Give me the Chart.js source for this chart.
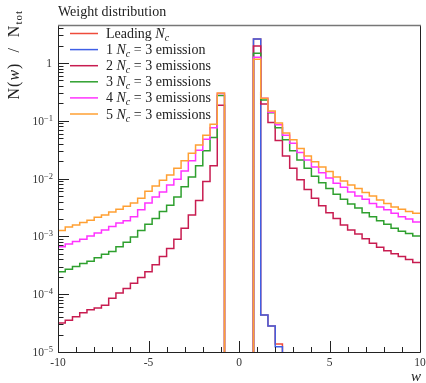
<!DOCTYPE html>
<html>
<head>
<meta charset="utf-8">
<script src="https://cdn.jsdelivr.net/npm/chart.js@4.4.1/dist/chart.umd.min.js"></script>
<style>
  html, body { margin: 0; padding: 0; background: #fff; }
</style>
</head>
<body>
<canvas id="weights" width="426" height="383"></canvas>
<script>
// DATA

// bin edges, 50 bins of width 0.4
const binEdges = [-10, -9.6, -9.2, -8.8, -8.4, -8, -7.6, -7.2, -6.8, -6.4,
  -6, -5.6, -5.2, -4.8, -4.4, -4, -3.6, -3.2, -2.8, -2.4,
  -2, -1.6, -1.2, -0.8, -0.4, 0, 0.4, 0.8, 1.2, 1.6,
  2, 2.4, 2.8, 3.2, 3.6, 4, 4.4, 4.8, 5.2, 5.6,
  6, 6.4, 6.8, 7.2, 7.6, 8, 8.4, 8.8, 9.2, 9.6, 10];

const leadingNc = [0, 0, 0, 0, 0, 0, 0, 0, 0, 0, 0, 0, 0, 0, 0, 0, 0, 0, 0, 0,
  0, 0, 0, 0, 0, 0, 0, 2.6, 4.37e-5, 2.82e-5, 1.38e-5, 0, 0, 0, 0, 0, 0, 0, 0, 0,
  0, 0, 0, 0, 0, 0, 0, 0, 0, 0];

const emission1 = [0, 0, 0, 0, 0, 0, 0, 0, 0, 0, 0, 0, 0, 0, 0, 0, 0, 0, 0, 0,
  0, 0, 0, 0, 0, 0, 0, 2.6, 4.37e-5, 2.82e-5, 1.23e-5, 0, 0, 0, 0, 0, 0, 0, 0, 0,
  0, 0, 0, 0, 0, 0, 0, 0, 0, 0];

const emission2 = [3.16e-5, 3.55e-5, 4.07e-5, 4.79e-5, 5.37e-5, 5.75e-5, 6.46e-5, 8.51e-5, 1.05e-4, 1.26e-4,
  1.55e-4, 1.95e-4, 2.45e-4, 3.24e-4, 4.47e-4, 6.17e-4, 8.91e-4, 1.38e-3, 2.34e-3, 4.17e-3,
  8.91e-3, 0.0166, 0.186, 0, 0, 0, 0, 1.97, 0.195, 0.0933,
  0.0457, 0.0245, 0.0151, 9.55e-3, 6.46e-3, 4.57e-3, 3.39e-3, 2.57e-3, 2.04e-3, 1.58e-3,
  1.29e-3, 1.10e-3, 9.12e-4, 7.59e-4, 6.46e-4, 5.62e-4, 5.01e-4, 4.47e-4, 3.98e-4, 3.55e-4];

const emission3 = [2.45e-4, 2.69e-4, 3.02e-4, 3.39e-4, 3.72e-4, 4.27e-4, 4.90e-4, 5.50e-4, 6.61e-4, 7.94e-4,
  9.77e-4, 1.26e-3, 1.62e-3, 2.04e-3, 2.69e-3, 3.47e-3, 4.79e-3, 7.24e-3, 0.0107, 0.0166,
  0.0302, 0.0513, 0.275, 0, 0, 0, 0, 1.47, 0.229, 0.138,
  0.0759, 0.0468, 0.0302, 0.0209, 0.0151, 0.0110, 8.51e-3, 6.76e-3, 5.37e-3, 4.37e-3,
  3.63e-3, 3.09e-3, 2.57e-3, 2.19e-3, 1.86e-3, 1.62e-3, 1.38e-3, 1.23e-3, 1.12e-3, 1.02e-3];

const emission4 = [6.61e-4, 7.41e-4, 8.13e-4, 8.91e-4, 1.02e-3, 1.15e-3, 1.29e-3, 1.48e-3, 1.70e-3, 1.86e-3,
  2.19e-3, 2.88e-3, 3.80e-3, 4.79e-3, 5.89e-3, 7.76e-3, 9.77e-3, 0.0135, 0.0204, 0.0309,
  0.0479, 0.0759, 0.295, 0, 0, 0, 0, 1.26, 0.245, 0.141,
  0.0851, 0.0562, 0.0407, 0.0282, 0.0209, 0.0158, 0.0126, 0.0102, 8.32e-3, 7.08e-3,
  5.89e-3, 5.01e-3, 4.37e-3, 3.72e-3, 3.24e-3, 2.88e-3, 2.51e-3, 2.19e-3, 2.00e-3, 1.78e-3];

const emission5 = [1.26e-3, 1.45e-3, 1.58e-3, 1.74e-3, 1.91e-3, 2.14e-3, 2.34e-3, 2.63e-3, 2.95e-3, 3.31e-3,
  3.80e-3, 4.57e-3, 6.03e-3, 7.41e-3, 9.33e-3, 0.0115, 0.0151, 0.0204, 0.0275, 0.0380,
  0.0562, 0.0871, 0.302, 0, 0, 0, 0, 1.16, 0.245, 0.148,
  0.0912, 0.0617, 0.0468, 0.0331, 0.0245, 0.0195, 0.0158, 0.0132, 0.0107, 9.12e-3,
  7.76e-3, 6.76e-3, 5.75e-3, 5.01e-3, 4.27e-3, 3.72e-3, 3.24e-3, 2.95e-3, 2.69e-3, 2.51e-3];

// ticks
const xMajorTicks = [-10, -5, 0, 5, 10];
const xTickLabels = ['-10', '-5', '0', '5', '10'];
const yMajorTicks = [1e-5, 1e-4, 1e-3, 1e-2, 1e-1, 1];
const yTickExponents = ['\u22125', '\u22124', '\u22123', '\u22122', '\u22121', null];

// legend rows: prefix, italic N, subscript c, suffix
const legendRows = [
  ['Leading ', ''],
  ['1 ', ' = 3 emission'],
  ['2 ', ' = 3 emissions'],
  ['3 ', ' = 3 emissions'],
  ['4 ', ' = 3 emissions'],
  ['5 ', ' = 3 emissions']
];
const seriesColors = ['#ee4b3b', '#3f5fe6', '#c81c50', '#2ea02e', '#ff33ff', '#ffa033'];

const SERIF = '"Liberation Serif", "DejaVu Serif", serif';

// empty bins sit far below the axis floor so the steps run off the bottom
function toSteps(values) {
  const pts = values.map(function (v, i) {
    return { x: binEdges[i], y: v > 0 ? v : 1e-9 };
  });
  pts.push({ x: binEdges[values.length], y: pts[pts.length - 1].y });
  return pts;
}

const allSeries = [leadingNc, emission1, emission2, emission3, emission4, emission5];
const datasets = allSeries.map(function (vals, i) {
  return {
    label: 'series' + i,
    data: toSteps(vals),
    borderColor: seriesColors[i],
    borderWidth: 1.5,
    stepped: 'before',
    pointRadius: 0,
    fill: false,
    order: allSeries.length - 1 - i   // later rows drawn on top
  };
});

// draw mixed roman / italic / subscript pieces, returns end x
function drawPieces(c, pieces, x, y) {
  pieces.forEach(function (p) {
    c.font = p.font;
    c.fillText(p.t, x, y + (p.dy || 0));
    x += c.measureText(p.t).width;
  });
  return x;
}
function piecesWidth(c, pieces) {
  let w = 0;
  pieces.forEach(function (p) { c.font = p.font; w += c.measureText(p.t).width; });
  return w;
}

// frame, inward ticks, labels, legend
const decorPlugin = {
  id: 'decor',
  afterDraw(chart) {
    const c = chart.ctx;
    const a = chart.chartArea;
    const xs = chart.scales.x, ys = chart.scales.y;
    c.save();

    // frame
    c.lineWidth = 1;
    c.strokeStyle = '#222';
    c.beginPath();
    c.moveTo(a.left + 0.5, a.top);
    c.lineTo(a.left + 0.5, a.bottom + 0.5);
    c.lineTo(a.right + 0.5, a.bottom + 0.5);
    c.lineTo(a.right + 0.5, a.top);
    c.stroke();
    c.strokeStyle = '#777';
    c.lineWidth = 1.5;
    c.beginPath();
    c.moveTo(a.left, a.top);
    c.lineTo(a.right + 1, a.top);
    c.stroke();

    // x ticks
    c.strokeStyle = '#222';
    c.lineWidth = 1;
    for (let v = -10; v <= 10; v++) {
      const px = Math.round(xs.getPixelForValue(v)) + 0.5;
      const len = xMajorTicks.indexOf(v) >= 0 ? 11 : 5;
      c.beginPath();
      c.moveTo(px, a.bottom);
      c.lineTo(px, a.bottom - len);
      c.stroke();
    }
    // y ticks
    for (let d = -5; d <= 0; d++) {
      for (let m = 1; m <= 9; m++) {
        const v = m * Math.pow(10, d);
        if (v > ys.max) break;
        const py = Math.round(ys.getPixelForValue(v)) + 0.5;
        const len = m === 1 ? 11 : 5.5;
        c.beginPath();
        c.moveTo(a.left, py);
        c.lineTo(a.left + len, py);
        c.stroke();
      }
    }

    c.fillStyle = '#333';
    // x tick labels
    c.font = '11.5px ' + SERIF;
    c.textAlign = 'center';
    c.textBaseline = 'alphabetic';
    xMajorTicks.forEach(function (v, i) {
      c.fillText(xTickLabels[i], xs.getPixelForValue(v), a.bottom + 14);
    });
    // y tick labels
    c.textAlign = 'left';
    yMajorTicks.forEach(function (v, i) {
      const py = ys.getPixelForValue(v);
      const exp = yTickExponents[i];
      if (exp === null) {
        c.font = '11.5px ' + SERIF;
        c.fillText('1', a.left - 6 - c.measureText('1').width, py + 4);
        return;
      }
      const pieces = [
        { t: '10', font: '11.5px ' + SERIF, dy: 0 },
        { t: exp, font: '8.5px ' + SERIF, dy: -4 }
      ];
      const w = piecesWidth(c, pieces);
      drawPieces(c, pieces, a.left - 5 - w, py + 4);
    });

    c.fillStyle = '#222';
    // title
    c.font = '14px ' + SERIF;
    c.fillText('Weight distribution', a.left, 16);

    // x axis title
    c.font = 'italic 15px ' + SERIF;
    c.textAlign = 'right';
    c.fillText('w', a.right + 1, 381);
    c.textAlign = 'left';

    // y axis title, rotated, ending near the top
    const yPieces = [
      { t: 'N(', font: '16px ' + SERIF },
      { t: 'w', font: 'italic 16px ' + SERIF },
      { t: ')  /  N', font: '16px ' + SERIF },
      { t: 'tot', font: '11px ' + SERIF, dy: 3 }
    ];
    c.save();
    c.letterSpacing = '1px';
    const yw = piecesWidth(c, yPieces);
    c.translate(19, 10 + yw);
    c.rotate(-Math.PI / 2);
    drawPieces(c, yPieces, 0, 0);
    c.restore();

    // legend
    legendRows.forEach(function (row, i) {
      const ly = 33.5 + 16.1 * i;
      c.strokeStyle = seriesColors[i];
      c.lineWidth = 1.5;
      c.beginPath();
      c.moveTo(70, ly);
      c.lineTo(98, ly);
      c.stroke();
      c.fillStyle = '#222';
      drawPieces(c, [
        { t: row[0], font: '14px ' + SERIF },
        { t: 'N', font: 'italic 14px ' + SERIF },
        { t: 'c', font: 'italic 10px ' + SERIF, dy: 3 },
        { t: row[1], font: '14px ' + SERIF }
      ], 106, ly + 4.5);
    });

    c.restore();
  }
};

// render
const weightChart = new Chart(document.getElementById('weights'), {
  type: 'line',
  data: { datasets: datasets },
  options: {
    responsive: false,
    animation: false,
    layout: { padding: { left: 58, right: 6, top: 25.5, bottom: 31 } },
    plugins: { legend: { display: false }, tooltip: { enabled: false } },
    scales: {
      x: { type: 'linear', min: -10, max: 10, display: false },
      y: { type: 'logarithmic', min: 1e-5, max: 4.45, display: false }
    }
  },
  plugins: [decorPlugin]
});
</script>
</body>
</html>
